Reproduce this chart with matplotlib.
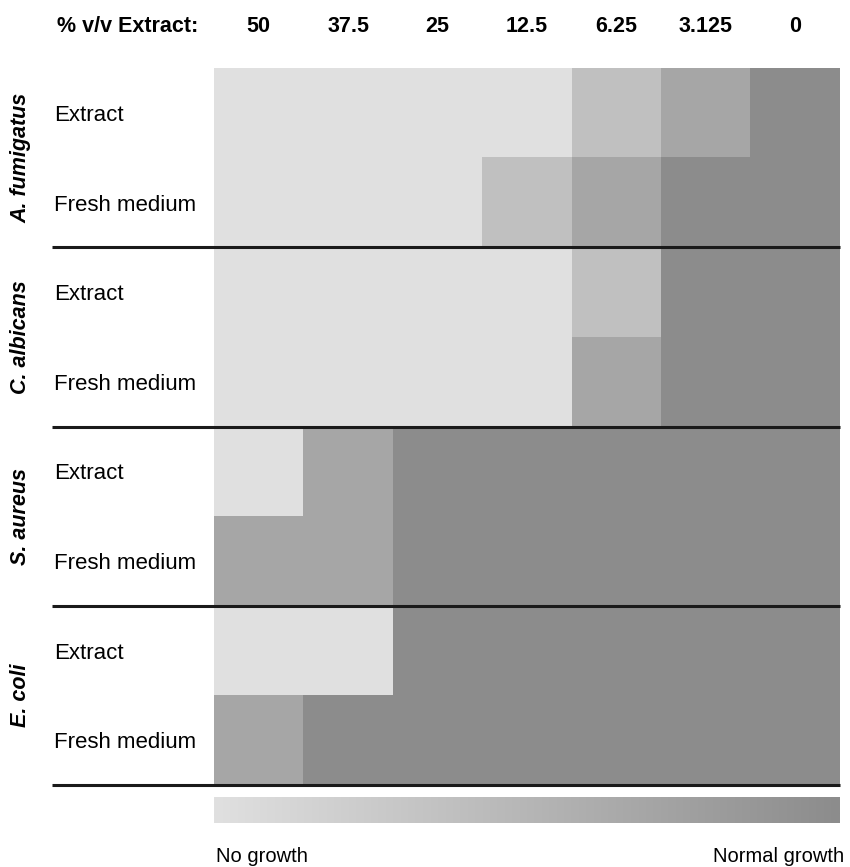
import numpy as np
import matplotlib
matplotlib.use("Agg")
import matplotlib.pyplot as plt
from matplotlib.colors import LinearSegmentedColormap

# Extract concentrations (% v/v) across the columns
concentrations = ["50", "37.5", "25", "12.5", "6.25", "3.125", "0"]
species = ["A. fumigatus", "C. albicans", "S. aureus", "E. coli"]
conditions = ["Extract", "Fresh medium"]

# Growth scores per row (0 = no growth, 1 = normal growth)
a_fumigatus_extract = [0, 0, 0, 0, 0.38, 0.69, 1]
a_fumigatus_fresh = [0, 0, 0, 0.38, 0.69, 1, 1]
c_albicans_extract = [0, 0, 0, 0, 0.38, 1, 1]
c_albicans_fresh = [0, 0, 0, 0, 0.69, 1, 1]
s_aureus_extract = [0, 0.69, 1, 1, 1, 1, 1]
s_aureus_fresh = [0.69, 0.69, 1, 1, 1, 1, 1]
e_coli_extract = [0, 0, 1, 1, 1, 1, 1]
e_coli_fresh = [0.69, 1, 1, 1, 1, 1, 1]

grid = np.array([
    a_fumigatus_extract, a_fumigatus_fresh,
    c_albicans_extract, c_albicans_fresh,
    s_aureus_extract, s_aureus_fresh,
    e_coli_extract, e_coli_fresh,
])

plt.rcParams["font.family"] = ["Liberation Sans", "DejaVu Sans"]
cmap = LinearSegmentedColormap.from_list("growth", ["#e0e0e0", "#8c8c8c"])

W, H = 850, 867
fig = plt.figure(figsize=(W / 100, H / 100), dpi=100)

def fx(px):
    return px / W

def fy(py):
    return 1 - py / H

left, right, top, bottom = 214, 840, 68, 785
ax = fig.add_axes([fx(left), fy(bottom), fx(right) - fx(left), fy(top) - fy(bottom)])
ax.imshow(grid, cmap=cmap, vmin=0, vmax=1, aspect="auto",
          interpolation="nearest", extent=(0, 7, 8, 0))
ax.set_xlim(0, 7)
ax.set_ylim(8, 0)
ax.axis("off")

# Separator lines between species groups, extending under the row labels
x0 = (52 - left) / (right - left)
for g in range(1, 5):
    ax.plot([x0, 1], [g * 2, g * 2], transform=ax.get_yaxis_transform(),
            color="#1a1a1a", lw=2.2, clip_on=False, solid_capstyle="butt")

# Column headers
header_y = fy(32)
fig.text(fx(57), header_y, "% v/v Extract:", fontsize=15.5, fontweight="bold",
         ha="left", va="baseline")
for i, c in enumerate(concentrations):
    xc = fx(left + (i + 0.5) * (right - left) / 7)
    fig.text(xc, header_y, c, fontsize=15.5, fontweight="bold",
             ha="center", va="baseline")

# Row labels and species names
for r in range(8):
    ax.text(x0 + 0.003, r + 0.5 + 0.09, conditions[r % 2],
            transform=ax.get_yaxis_transform(),
            fontsize=16, ha="left", va="baseline")
for g, sp in enumerate(species):
    ax.text((21 - left) / (right - left), g * 2 + 1, sp,
            transform=ax.get_yaxis_transform(),
            fontsize=15.5, fontweight="bold", fontstyle="italic", rotation=90,
            ha="center", va="center")

# Gradient legend bar
cax = fig.add_axes([fx(left), fy(823), fx(right) - fx(left), fy(797) - fy(823)])
cax.imshow(np.linspace(0, 1, 256)[None, :], cmap=cmap, aspect="auto",
           extent=(0, 1, 0, 1))
cax.axis("off")
fig.text(fx(216), fy(862), "No growth", fontsize=14.5, ha="left", va="baseline")
fig.text(fx(844), fy(862), "Normal growth", fontsize=14.5, ha="right", va="baseline")

fig.savefig("out.png", dpi=100)
